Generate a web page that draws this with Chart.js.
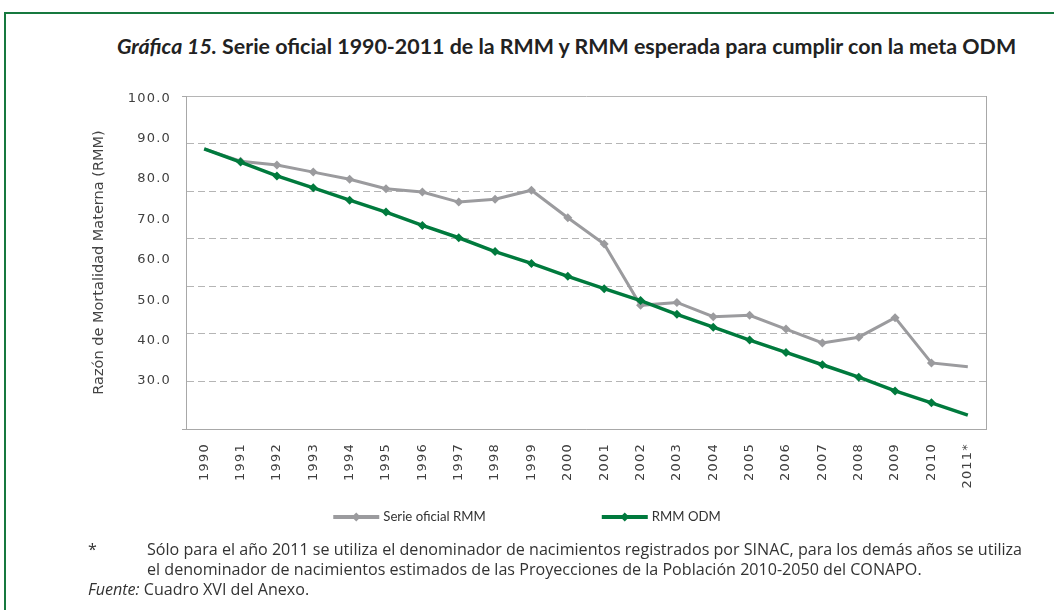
<!DOCTYPE html>
<html lang="es">
<head>
<meta charset="utf-8">
<script src="https://cdn.jsdelivr.net/npm/chart.js@4.4.1/dist/chart.umd.min.js"></script>
<style>
  body { margin: 0; background: #fff; }
  #frame { position: relative; width: 1054px; height: 610px; overflow: hidden; }
  #frame:before { content: ''; position: absolute; left: 4px; top: 12px; right: -10px; bottom: -10px;
    border-left: 2px solid #16793f; border-top: 2px solid #16793f; }
  #title { position: absolute; left: 117px; top: 33px; font: bold 21.4px Lato, sans-serif; line-height: 26px; color: #222; white-space: nowrap; }
  canvas { position: absolute; left: 0; top: 0; }
  .note { position: absolute; font: 16.1px "Open Sans", sans-serif; line-height: 20px; color: #333; white-space: nowrap; }
</style>
</head>
<body>
<div id="frame">
  <div id="title"><i>Gráfica 15.</i> Serie oficial 1990-2011 de la RMM y RMM esperada para cumplir con la meta ODM</div>
  <canvas id="rmm" width="1054" height="540"></canvas>
  <div class="note" style="left:88px; top:539px;">*</div>
  <div class="note" style="left:147px; top:539px;">Sólo para el año 2011 se utiliza el denominador de nacimientos registrados por SINAC, para los demás años se utiliza</div>
  <div class="note" style="left:147px; top:559px;">el denominador de nacimientos estimados de las Proyecciones de la Población 2010-2050 del CONAPO.</div>
  <div class="note" style="left:88px; top:579px;"><i>Fuente:</i> Cuadro XVI del Anexo.</div>
</div>
<script>
const years = ['1990', '1991', '1992', '1993', '1994', '1995', '1996', '1997', '1998', '1999', '2000',
  '2001', '2002', '2003', '2004', '2005', '2006', '2007', '2008', '2009', '2010', '2011*'];
const serieOficial = [88.9, 86.3, 85.5, 84.0, 82.5, 80.5, 79.8, 77.7, 78.3, 80.2, 74.4,
  68.9, 56.0, 56.6, 53.6, 53.9, 51.0, 48.1, 49.3, 53.4, 43.9, 43.1];
const rmmOdm = [88.9, 86.1, 83.2, 80.7, 78.1, 75.6, 72.8, 70.2, 67.3, 64.8, 62.1,
  59.5, 57.0, 54.1, 51.4, 48.7, 46.1, 43.5, 40.9, 38.0, 35.5, 32.9];
const yTickLabels = [100, 90, 80, 70, 60, 50, 40, 30];

const GREEN = '#007a3d';
const GRAY = '#9b9b9e';
const AXIS = '#a8a8a8';

// no marker on the first and last point
const markers = years.map((y, i) => (i === 0 || i === years.length - 1) ? 0 : 4.5);

// wider letter spacing on the tick labels
const spacedTicks = {
  id: 'spacedTicks',
  beforeDraw(chart) {
    ['x', 'yLabels'].forEach(id => {
      const s = chart.scales[id];
      if (!s || s._spaced) return;
      const orig = s.drawLabels;
      s.drawLabels = function (area) {
        this.ctx.save();
        this.ctx.letterSpacing = '1.2px';
        orig.call(this, area);
        this.ctx.restore();
      };
      s._spaced = true;
    });
  }
};

// legend: line sample with diamond, like the original
const lineLegend = {
  id: 'lineLegend',
  afterDraw(chart) {
    const ctx = chart.ctx;
    const y = chart.scales.x.top + 88;
    ctx.save();
    ctx.font = '13.2px Lato';
    ctx.textBaseline = 'middle';
    const items = chart.data.datasets.map(ds => ({ ds, w: ctx.measureText(ds.label).width }));
    const sample = 46, gap = 4, between = 116;
    const total = items.reduce((s, it) => s + sample + gap + it.w, 0) + between * (items.length - 1);
    let x = chart.width / 2 - total / 2;
    items.forEach(({ ds, w }) => {
      ctx.strokeStyle = ds.borderColor;
      ctx.lineWidth = 4;
      ctx.beginPath(); ctx.moveTo(x, y); ctx.lineTo(x + sample, y); ctx.stroke();
      const cx = x + sample / 2, r = 4.5;
      ctx.fillStyle = ds.borderColor;
      ctx.beginPath();
      ctx.moveTo(cx, y - r); ctx.lineTo(cx + r, y); ctx.lineTo(cx, y + r); ctx.lineTo(cx - r, y);
      ctx.closePath(); ctx.fill();
      ctx.fillStyle = '#333';
      ctx.fillText(ds.label, x + sample + gap, y);
      x += sample + gap + w + between;
    });
    ctx.restore();
  }
};

new Chart(document.getElementById('rmm'), {
  type: 'line',
  data: {
    labels: years,
    datasets: [
      {
        label: 'Serie oficial RMM',
        data: serieOficial,
        borderColor: GRAY,
        backgroundColor: GRAY,
        borderWidth: 3,
        pointStyle: 'rectRot',
        pointRadius: markers,
        pointBorderWidth: 0,
        tension: 0,
        order: 1
      },
      {
        label: 'RMM ODM',
        data: rmmOdm,
        borderColor: GREEN,
        backgroundColor: GREEN,
        borderWidth: 3.5,
        pointStyle: 'rectRot',
        pointRadius: markers,
        pointBorderWidth: 0,
        tension: 0,
        order: 0
      }
    ]
  },
  options: {
    responsive: false,
    animation: false,
    layout: { padding: { left: 0, right: 0, top: 96, bottom: 0 } },
    plugins: {
      legend: { display: false },
      title: { display: false },
      tooltip: { enabled: false }
    },
    scales: {
      x: {
        offset: true,
        grid: { display: false, drawTicks: false },
        border: { color: AXIS, width: 1 },
        ticks: {
          autoSkip: false, minRotation: 90, maxRotation: 90, padding: 14,
          color: '#404040', font: { family: 'DejaVu Sans', size: 13 }
        },
        afterFit(s) { s.height = 111; }
      },
      y: {
        position: 'left',
        weight: 0,
        min: 30,
        max: 100,
        ticks: { stepSize: 10, display: false },
        grid: {
          color: '#b5b5b5', lineWidth: 1, drawTicks: true, tickLength: 4,
          tickColor: c => (c.tick && (c.tick.value === 30 || c.tick.value === 100)) ? AXIS : 'rgba(0,0,0,0)'
        },
        border: {
          color: AXIS, width: 1,
          dash: c => (c.tick && (c.tick.value === 30 || c.tick.value === 100)) ? [] : [7, 4]
        },
        afterFit(s) { s.width = 4; }
      },
      yLabels: {
        type: 'linear',
        position: 'left',
        weight: 1,
        min: 18.15,
        max: 100.57,
        afterBuildTicks(s) { s.ticks = yTickLabels.map(v => ({ value: v })); },
        grid: { display: false, drawTicks: false },
        border: { display: false },
        ticks: {
          padding: 11,
          color: '#404040',
          font: { family: 'DejaVu Sans', size: 13 },
          callback: v => v.toFixed(1)
        },
        title: {
          display: true,
          text: 'Razón de Mortalidad Materna (RMM)',
          color: '#444',
          font: { family: 'DejaVu Sans', size: 14.5 },
          padding: { top: 91, bottom: 0 }
        },
        afterFit(s) { s.width = 182; }
      },
      yRight: {
        type: 'linear',
        position: 'right',
        ticks: { display: false },
        grid: { drawOnChartArea: false, drawTicks: false },
        border: { color: AXIS, width: 1 },
        afterFit(s) { s.width = 68; }
      }
    }
  },
  plugins: [spacedTicks, lineLegend]
});
</script>
</body>
</html>
